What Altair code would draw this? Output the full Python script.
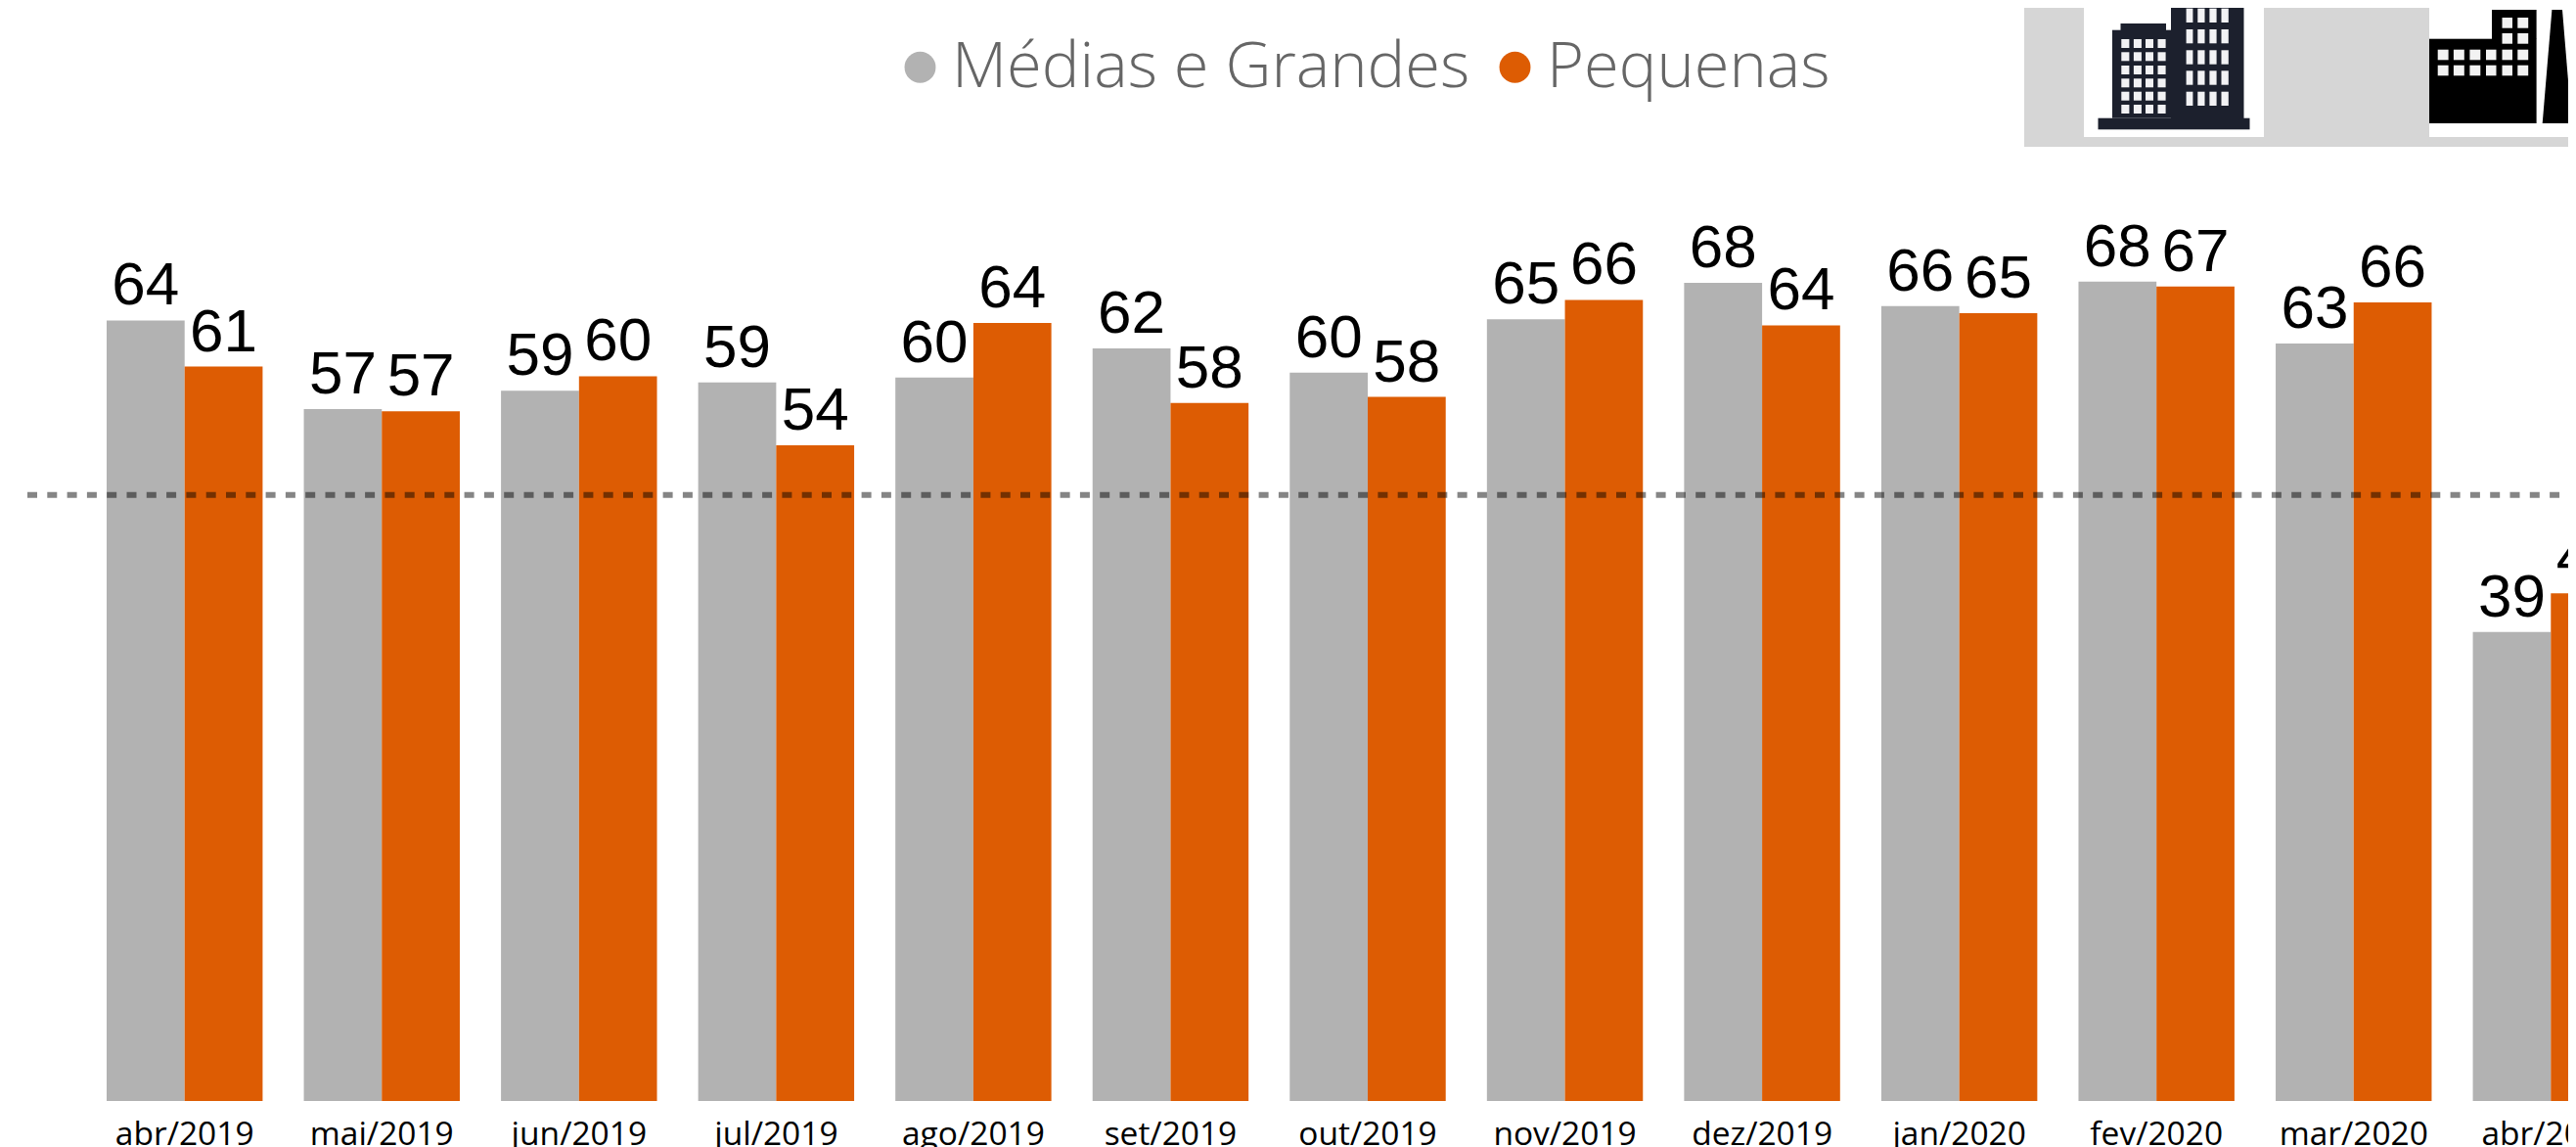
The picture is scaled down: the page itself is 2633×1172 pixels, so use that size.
import urllib.parse
import altair as alt
import pandas as pd

months = ["abr/2019", "mai/2019", "jun/2019", "jul/2019", "ago/2019", "set/2019", "out/2019",
          "nov/2019", "dez/2019", "jan/2020", "fev/2020", "mar/2020", "abr/2020"]
medias = [64.4, 57.1, 58.6, 59.3, 59.7, 62.1, 60.1, 64.5, 67.5, 65.6, 67.6, 62.5, 38.7]
pequenas = [60.6, 56.9, 59.8, 54.1, 64.2, 57.6, 58.1, 66.1, 64.0, 65.0, 67.2, 65.9, 41.9]
medias_labels = [64, 57, 59, 59, 60, 62, 60, 65, 68, 66, 68, 63, 39]
pequenas_labels = [61, 57, 60, 54, 64, 58, 58, 66, 64, 65, 67, 66, 42]
series_names = ["Médias e Grandes", "Pequenas"]
series_colors = ["#b2b2b2", "#dd5c03"]
reference_level = [50]

rows = []
for i, m in enumerate(months):
    rows.append({"mes": m, "serie": series_names[0], "valor": medias[i], "rotulo": medias_labels[i]})
    rows.append({"mes": m, "serie": series_names[1], "valor": pequenas[i], "rotulo": pequenas_labels[i]})
df = pd.DataFrame(rows)


def windows(xs, ys, fill):
    return "".join(f'<rect x="{a}" y="{c}" width="{round(b-a,2)}" height="{round(d-c,2)}" fill="{fill}"/>' for a, b in xs for c, d in ys)


# Header decoration (panel + building icons), drawn as one picture in page coordinates
icon_svg = (
    '<svg xmlns="http://www.w3.org/2000/svg" width="564" height="142" viewBox="2069 8 564 142">'
    '<rect x="2069" y="0" width="564" height="150" fill="#d6d6d6"/>'
    '<rect x="2130" y="0" width="184" height="140" fill="#fff"/>'
    '<rect x="2483" y="0" width="150" height="140" fill="#fff"/>'
    '<g fill="#1c202d">'
    '<rect x="2144.5" y="120.7" width="155" height="11.6"/>'
    '<rect x="2159" y="30.7" width="61" height="90"/>'
    '<rect x="2167.5" y="24" width="46.5" height="7"/>'
    '<rect x="2219" y="0" width="74.5" height="121"/></g>'
    + windows([(2168.3, 2176.4), (2180.9, 2188.9), (2193, 2201), (2205.5, 2213.6)],
              [(40, 49), (53.3, 62.3), (67, 76), (80.3, 89.3), (93.7, 102.7), (107, 116)], "#f2f2f4")
    + windows([(2234.6, 2241.4), (2246.3, 2253.5), (2258.4, 2265.6), (2270.5, 2277.8)],
              [(-13, 2), (8.7, 23), (30, 44.3), (51.3, 65.7), (72.3, 86.7), (93.7, 108)], "#f2f2f4")
    + '<g fill="#000">'
    '<rect x="2483" y="39.7" width="109.6" height="86.3"/>'
    '<rect x="2547" y="10" width="45.6" height="30"/>'
    '<polygon points="2608.4,10 2619,10 2628.6,126 2598.7,126"/>'
    '<rect x="2608.4" y="4.7" width="10.6" height="3.3"/>'
    '<rect x="2612.5" y="0" width="2.5" height="5"/></g>'
    + windows([(2491.7, 2502.6), (2507.9, 2518.8), (2524.4, 2535.3), (2541, 2551.5), (2557.5, 2568), (2573.3, 2584.2)],
              [(50.7, 61.3), (66.7, 77.3)], "#f2f2f2")
    + windows([(2557.5, 2568), (2573.3, 2584.2)], [(18, 28.7), (34, 44.7)], "#f2f2f2")
    + "</svg>"
)
icon_url = "data:image/svg+xml," + urllib.parse.quote(icon_svg)

x_enc = alt.X(
    "mes:N",
    sort=months,
    scale=alt.Scale(domain=months, range=[101, 2679], paddingInner=0.209, paddingOuter=0),
    axis=alt.Axis(title=None, domain=False, ticks=False, grid=False, labelAngle=0, labelFont="Open Sans",
                  labelFontSize=33.5, labelColor="#000000", labelPadding=18, labelOverlap=False,
                  labelBound=False, labelFlush=False),
)
y_scale = alt.Scale(domain=[0, 90.2])
y_enc = alt.Y("valor:Q", scale=y_scale, axis=None)
off_enc = alt.XOffset("serie:N", sort=series_names, scale=alt.Scale(domain=series_names, paddingInner=0, paddingOuter=0))

bars = alt.Chart(df).mark_bar(strokeWidth=0).encode(
    x=x_enc,
    y=y_enc,
    xOffset=off_enc,
    color=alt.Color(
        "serie:N",
        sort=series_names,
        scale=alt.Scale(domain=series_names, range=series_colors),
        legend=alt.Legend(
            title=None, orient="none", legendX=900, legendY=28, direction="horizontal",
            symbolType="circle", symbolSize=1018, symbolStrokeWidth=0, labelFont="Open Sans", labelFontSize=65,
            labelFontWeight=300, labelColor="#666666", labelOffset=0, columnPadding=13, labelLimit=800,
        ),
    ),
)

labels = alt.Chart(df).mark_text(font="Liberation Sans", fontSize=62, color="#000000", baseline="alphabetic",
                                 align="center", dy=-16).encode(
    x=x_enc,
    y=y_enc,
    xOffset=off_enc,
    text=alt.Text("rotulo:Q"),
)

rule = alt.Chart(pd.DataFrame({"nivel": reference_level})).mark_rule(
    color="#000000", opacity=0.48, strokeWidth=6, strokeDash=[10, 10.3]
).encode(y=alt.Y("nivel:Q", scale=y_scale, axis=None), x=alt.value(20), x2=alt.value(2617))

icons = alt.Chart(pd.DataFrame({"a": [0]})).mark_image(
    url=icon_url, width=564, height=142, align="left", baseline="top"
).encode(x=alt.value(2061), y=alt.value(0))

chart = alt.layer(bars, rule, labels, icons).properties(
    width=2617,
    height=1117,
    padding={"left": 0, "top": 0, "right": 0, "bottom": 47},
    autosize=alt.AutoSizeParams(type="none"),
    background="#ffffff",
).configure_view(stroke=None)

chart.save("out.html", embed_options={"renderer": "svg", "actions": False})
